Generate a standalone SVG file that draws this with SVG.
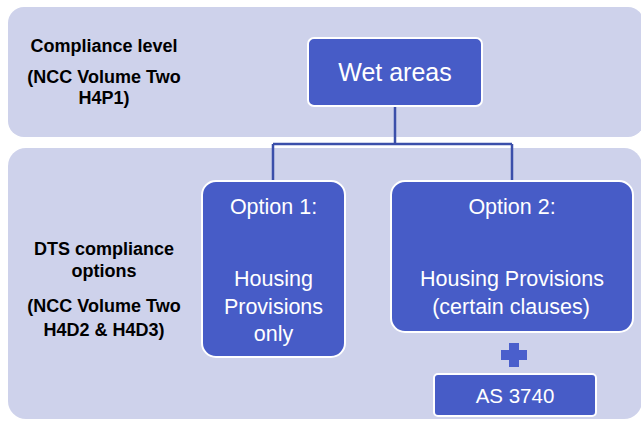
<svg xmlns="http://www.w3.org/2000/svg" width="641" height="421" viewBox="0 0 641 421">
  <style>
    .panel { fill: #CED2EB; }
    .box { fill: #475CC7; stroke: #FFFFFF; stroke-width: 2; }
    .wire { fill: none; stroke: #3B4FAA; stroke-width: 2.5; }
    .label { font-family: "Liberation Sans", Arial, sans-serif; font-weight: bold; font-size: 18px; fill: #000000; text-anchor: middle; }
    .boxtext { font-family: "Liberation Sans", Arial, sans-serif; fill: #FFFFFF; text-anchor: middle; }
  </style>
  <rect width="641" height="421" fill="#FFFFFF"/>

  <!-- Background bands -->
  <g id="band-compliance">
    <rect class="panel" x="8" y="7" width="636" height="130" rx="16"/>
    <text class="label" x="104" y="52">Compliance level</text>
    <text class="label" x="104" y="83">(NCC Volume Two</text>
    <text class="label" x="104" y="104">H4P1)</text>
  </g>
  <g id="band-dts">
    <rect class="panel" x="8" y="148" width="634" height="271" rx="18"/>
    <text class="label" x="104" y="255">DTS compliance</text>
    <text class="label" x="104" y="277">options</text>
    <text class="label" x="104" y="312">(NCC Volume Two</text>
    <text class="label" x="104" y="336">H4D2 &amp; H4D3)</text>
  </g>

  <!-- Connectors -->
  <g id="connectors">
    <path class="wire" d="M395 106 V144 M273 144 H512 M273 144 V181 M512 144 V181"/>
  </g>

  <!-- Nodes -->
  <g id="wet-areas">
    <rect class="box" x="308" y="38" width="174" height="68" rx="6"/>
    <text class="boxtext" x="395" y="81" font-size="25">Wet areas</text>
  </g>
  <g id="option-1">
    <rect class="box" x="202" y="181" width="143" height="176" rx="14"/>
    <text class="boxtext" x="273.5" y="214" font-size="21.5">Option 1:</text>
    <text class="boxtext" x="273.5" y="286" font-size="21.5">Housing</text>
    <text class="boxtext" x="273.5" y="314" font-size="21.5">Provisions</text>
    <text class="boxtext" x="273.5" y="341" font-size="21.5">only</text>
  </g>
  <g id="option-2">
    <rect class="box" x="391" y="181" width="242" height="151" rx="14"/>
    <text class="boxtext" x="512" y="214" font-size="21.5">Option 2:</text>
    <text class="boxtext" x="512" y="286" font-size="21.5">Housing Provisions</text>
    <text class="boxtext" x="511" y="314" font-size="21.5">(certain clauses)</text>
  </g>
  <g id="plus">
    <path d="M509 343 H519 V350 H527 V360 H519 V367 H509 V360 H501 V350 H509 Z" fill="#4A5FCC"/>
  </g>
  <g id="as-3740">
    <rect class="box" x="434" y="374" width="162" height="42" rx="4"/>
    <text class="boxtext" x="515" y="403" font-size="20.5">AS 3740</text>
  </g>
</svg>
